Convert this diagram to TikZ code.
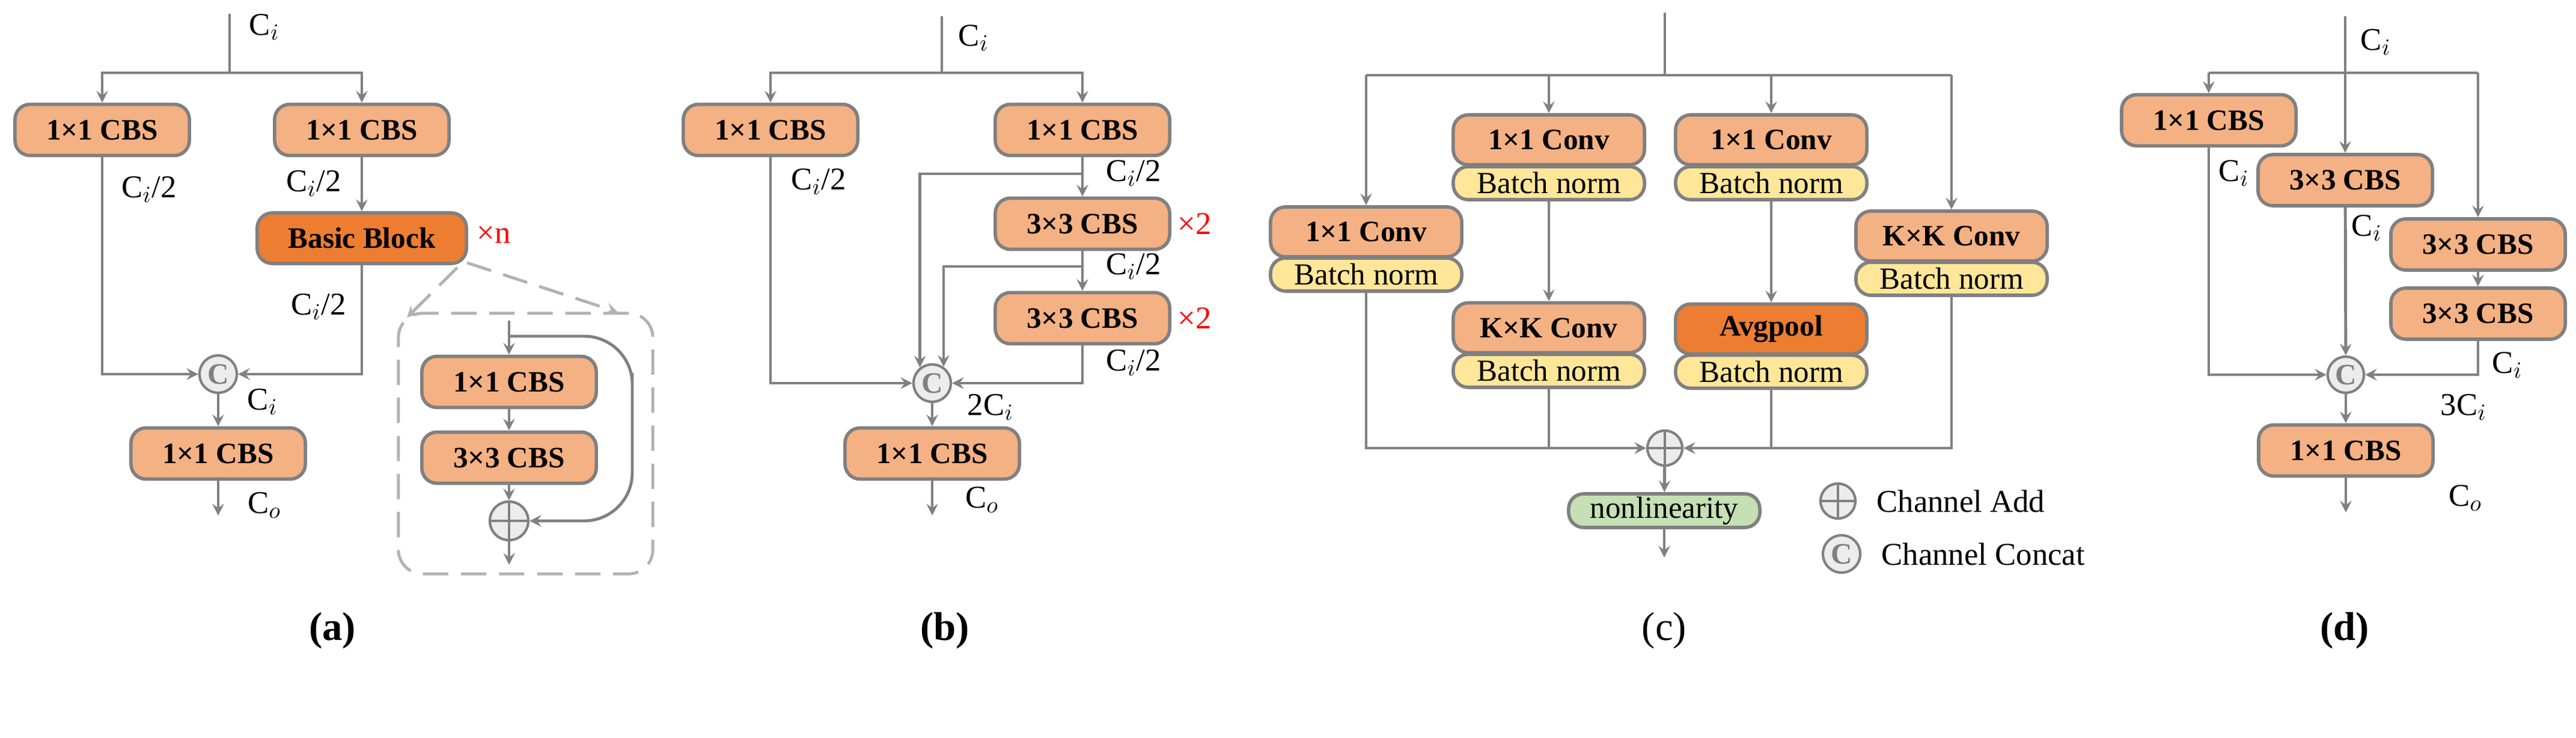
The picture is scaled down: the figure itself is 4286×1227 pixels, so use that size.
\documentclass[tikz,border=0pt]{standalone}
\usepackage{fontspec}
\setmainfont{Liberation Serif}
\usetikzlibrary{arrows,calc}
\definecolor{cbsorange}{HTML}{F4B183}
\definecolor{cbsdark}{HTML}{ED7D31}
\definecolor{bnyellow}{HTML}{FFE699}
\definecolor{nlgreen}{HTML}{C5E0B4}
\definecolor{linegray}{HTML}{808080}
\newcommand{\Ci}{C$_i$}
\newcommand{\Chalf}{C$_i$/2}
\tikzset{
	box/.style={draw=linegray, line width=1.6pt, rounded corners=0.25cm, inner sep=0pt, font=\bfseries\fontsize{14}{14}\selectfont},
	cbs/.style={box, fill=cbsorange, minimum width=2.9cm, minimum height=0.85cm},
	conv/.style={box, fill=cbsorange, minimum width=3.18cm, minimum height=0.83cm},
	bn/.style={box, fill=bnyellow, minimum width=3.18cm, minimum height=0.55cm, font=\fontsize{14.5}{14}\selectfont},
	cat/.style={circle, draw=linegray, fill=gray!15, line width=1.2pt, minimum size=0.62cm, inner sep=0pt, text=gray, font=\bfseries\fontsize{14}{14}\selectfont},
	add/.style={circle, draw=linegray, fill=gray!15, line width=1.2pt, minimum size=0.58cm, inner sep=0pt,
		path picture={\draw[linegray, line width=1.2pt] (path picture bounding box.north) -- (path picture bounding box.south) (path picture bounding box.west) -- (path picture bounding box.east);}},
	lbl/.style={font=\fontsize{15}{15}\selectfont},
	times/.style={text=red, font=\fontsize{15}{15}\selectfont},
	sub/.style={font=\bfseries\fontsize{19}{19}\selectfont},
	link/.style={draw=linegray, line width=1.4pt},
	zoomline/.style={draw=gray!60, line width=1.4pt, dash pattern=on 12pt off 6pt},
}
\begin{document}
\begin{tikzpicture}[>=stealth, x=0.01cm, y=-0.01cm]
	\useasboundingbox (0,0) rectangle (4286,1227);
	% (a)
	\coordinate (a0) at (382,23);
	\coordinate (a1) at (382,121);
	\node[cbs] (aL) at (170,216) {1×1 CBS};
	\node[cbs] (aR) at (602,216) {1×1 CBS};
	\node[cbs, fill=cbsdark, minimum width=3.48cm, minimum height=0.84cm] (aB) at (602,396) {Basic Block};
	\node[cat] (aC) at (363,622) {C};
	\node[cbs] (aO) at (363,754) {1×1 CBS};
	\coordinate (aE) at (363,857);
	\draw[link] (a0) -- (a1);
	\draw[link,->] (a1) -| (aL);
	\draw[link,->] (a1) -| (aR);
	\draw[link,->] (aR) -- (aB);
	\draw[link,->] (aL) |- (aC);
	\draw[link,->] (aB) |- (aC);
	\draw[link,->] (aC) -- (aO);
	\draw[link,->] (aO) -- (aE);
	\node[lbl] (aci) at (440,45) {\Ci};
	\node[lbl] (ah1) at (248,315) {\Chalf};
	\node[lbl] (ah2) at (522,305) {\Chalf};
	\node[lbl] (ah3) at (530,510) {\Chalf};
	\node[lbl] (aco) at (437,668) {\Ci};
	\node[lbl] (aout) at (440,840) {C$_o$};
	\node[times] (an) at (822,390) {×n};
	% zoomed block
	\node[zoomline, rounded corners=0.4cm, minimum width=4.23cm, minimum height=4.33cm] (aD) at (874.5,737.5) {};
	\coordinate (dz1) at (677,528);
	\coordinate (dz2) at (1028,519);
	\draw[zoomline,->] (aB.south east) ++(-18,4) -- (dz1);
	\draw[zoomline,->] (aB.south east) ++(-2,-4) -- (dz2);
	\coordinate (i0) at (847,533);
	\coordinate (i1) at (847,559);
	\coordinate (iS) at (1052,700);
	\node[cbs] (i2) at (847,635) {1×1 CBS};
	\node[cbs] (i3) at (847,761) {3×3 CBS};
	\node[add, minimum size=0.64cm] (iA) at (847,866) {};
	\coordinate (iE) at (847,939);
	\draw[link,->] (i0) -- (i2);
	\draw[link,->] (i2) -- (i3);
	\draw[link,->] (i3) -- (iA);
	\draw[link,->] (iA) -- (iE);
	\draw[link,->,rounded corners=0.8cm] (i1) -| (iS) |- (iA);
	\node[sub] (la) at (553,1048) {(a)};
	% (b)
	\coordinate (b0) at (1567,27);
	\coordinate (b1) at (1567,121);
	\node[cbs] (bL) at (1282,216) {1×1 CBS};
	\node[cbs] (bR) at (1801,216) {1×1 CBS};
	\node[cbs] (b3) at (1801,372) {3×3 CBS};
	\node[cbs] (b4) at (1801,529) {3×3 CBS};
	\node[cat] (bC) at (1551,637) {C};
	\node[cbs] (bO) at (1551,754) {1×1 CBS};
	\coordinate (bE) at (1551,857);
	\coordinate (bs1) at (1801,289);
	\coordinate (bs2) at (1801,443);
	\draw[link] (b0) -- (b1);
	\draw[link,->] (b1) -| (bL);
	\draw[link,->] (b1) -| (bR);
	\draw[link,->] (bR) -- (b3);
	\draw[link,->] (b3) -- (b4);
	\draw[link,->] (bL) |- (bC);
	\draw[link,->] (b4) |- (bC);
	\draw[link,->] (bs1) -| (bC.128);
	\draw[link,->] (bs2) -| (bC.55);
	\draw[link,->] (bC) -- (bO);
	\draw[link,->] (bO) -- (bE);
	\node[lbl] (bci) at (1620,63) {\Ci};
	\node[lbl] (bh1) at (1362,302) {\Chalf};
	\node[lbl] (bh2) at (1886,288) {\Chalf};
	\node[lbl] (bh3) at (1886,443) {\Chalf};
	\node[lbl] (bh4) at (1886,603) {\Chalf};
	\node[lbl] (bco) at (1648,677) {2C$_i$};
	\node[lbl] (bout) at (1634,831) {C$_o$};
	\node[times] (bx1) at (1988,372) {×2};
	\node[times] (bx2) at (1988,529) {×2};
	\node[sub] (lb) at (1572,1048) {(b)};
	% (c)
	\coordinate (c0) at (2770,21);
	\coordinate (ct) at (2770,125);
	\coordinate (cl) at (2273,125);
	\coordinate (cr) at (3247,125);
	\node[conv] (c1) at (2273,385.5) {1×1 Conv};
	\node[bn] (c1n) at (2273,456.5) {Batch norm};
	\node[conv] (c2) at (2577,232.5) {1×1 Conv};
	\node[bn] (c2n) at (2577,304.5) {Batch norm};
	\node[conv] (c3) at (2947,232.5) {1×1 Conv};
	\node[bn] (c3n) at (2947,304.5) {Batch norm};
	\node[conv] (c4) at (3247,392.5) {K×K Conv};
	\node[bn] (c4n) at (3247,463.5) {Batch norm};
	\node[conv] (c5) at (2577,545) {K×K Conv};
	\node[bn] (c5n) at (2577,616.5) {Batch norm};
	\node[conv, fill=cbsdark] (c6) at (2947,547) {Avgpool};
	\node[bn] (c6n) at (2947,618) {Batch norm};
	\node[add] (cA) at (2770,745) {};
	\node[box, fill=nlgreen, minimum width=3.18cm, minimum height=0.56cm, font=\fontsize{14.5}{14}\selectfont] (cN) at (2769,849) {nonlinearity};
	\coordinate (cE) at (2769,927);
	\draw[link] (c0) -- (ct);
	\draw[link] (cl) -- (cr);
	\draw[link,->] (cl) -- (c1);
	\draw[link,->] (c2 |- ct) -- (c2);
	\draw[link,->] (c3 |- ct) -- (c3);
	\draw[link,->] (cr) -- (c4);
	\draw[link,->] (c2n) -- (c5);
	\draw[link,->] (c3n) -- (c6);
	\draw[link,->] (c1n) |- (cA);
	\draw[link,->] (c4n) |- (cA);
	\draw[link] (c5n) -- (c5n |- cA);
	\draw[link] (c6n) -- (c6n |- cA);
	\draw[link,->] (cA) -- (cN);
	\draw[link,->] (cN) -- (cE);
	\node[add] (gA) at (3058,833) {};
	\node[lbl, anchor=west] (gAt) at (3110,833) {Channel Add};
	\node[cat] (gC) at (3064,921) {C};
	\node[lbl, anchor=west] (gCt) at (3118,921) {Channel Concat};
	\node[lbl, font=\fontsize{19}{19}\selectfont] (lc) at (2769,1048) {(c)};
	% (d)
	\coordinate (d0) at (3902,27);
	\coordinate (dl) at (3675,121);
	\coordinate (dr) at (4123,121);
	\node[cbs] (dL) at (3675,200) {1×1 CBS};
	\node[cbs] (dA) at (3902,299.5) {3×3 CBS};
	\node[cbs] (dB) at (4123,406.5) {3×3 CBS};
	\node[cbs] (dC) at (4123,521.5) {3×3 CBS};
	\node[cat, minimum size=0.6cm] (dX) at (3903,623) {C};
	\node[cbs] (dO) at (3903,749) {1×1 CBS};
	\coordinate (dE) at (3903,852);
	\draw[link,->] (d0) -- (dA);
	\draw[link] (dl) -- (dr);
	\draw[link,->] (dl) -- (dL);
	\draw[link,->] (dr) -- (dB);
	\draw[link,->] (dB) -- (dC);
	\draw[link,->] (dL) |- (dX);
	\draw[link,->] (dA) -- (dX);
	\draw[link,->] (dC) |- (dX);
	\draw[link,->] (dX) -- (dO);
	\draw[link,->] (dO) -- (dE);
	\node[lbl] (dci) at (3953,70) {\Ci};
	\node[lbl] (dc1) at (3717,288) {\Ci};
	\node[lbl] (dc2) at (3938,379) {\Ci};
	\node[lbl] (dc3) at (4172,607) {\Ci};
	\node[lbl] (dc4) at (4099,677) {3C$_i$};
	\node[lbl] (dout) at (4102,828) {C$_o$};
	\node[sub] (ld) at (3901,1048) {(d)};
\end{tikzpicture}
\end{document}
